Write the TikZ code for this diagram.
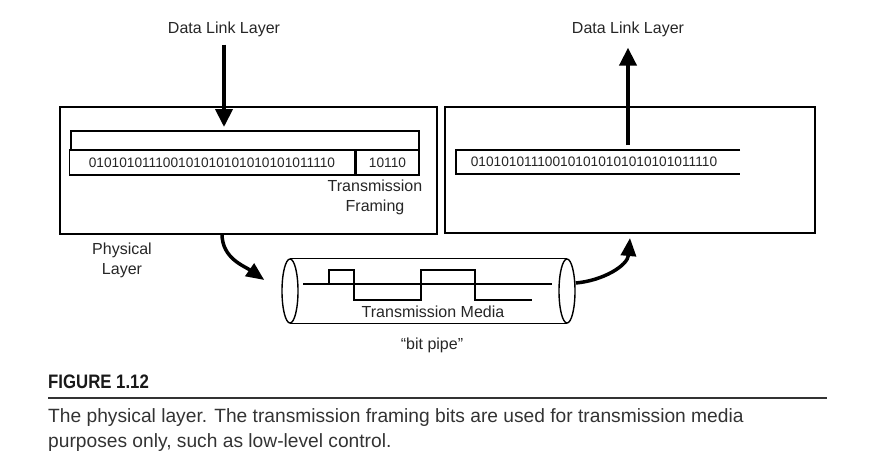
\documentclass[tikz,border=0pt]{standalone}
\usepackage{fontspec}
\setmainfont{Liberation Sans}
\newfontfamily\condfont[FakeStretch=0.86]{Liberation Sans}
\usetikzlibrary{shapes,arrows.meta,positioning}

\begin{document}
\begin{tikzpicture}[x=1pt,y=-1pt,
	caja/.style={draw,line width=1.6pt,inner sep=0pt,outer sep=0pt},
	trama/.style={draw,line width=1.2pt,inner sep=0pt,outer sep=0pt,minimum height=25pt,font=\fontsize{13.7}{16}\selectfont,text=black!85},
	etiq/.style={font=\fontsize{16}{20}\selectfont,text=black!85,align=center,inner sep=0pt},
	flecha/.style={line width=4pt,-{Triangle[width=17pt,length=18pt]}},
	curva/.style={line width=3.5pt,-{Triangle[width=15pt,length=18pt]}}]
		\useasboundingbox (0,0) rectangle (869,467);
		\node[etiq] (dllA) at (224,29) {Data Link Layer}; % emisor
		\node[etiq] (dllB) at (628,29) {Data Link Layer}; % receptor
		\node[caja,minimum width=377pt,minimum height=127pt] (tx) at (248.5,170.5) {};
		\node[caja,minimum width=370pt,minimum height=126pt] (rx) at (630,170) {};
		% trama
		\node[trama,minimum width=348pt,minimum height=19pt] (cab) at (245,140.5) {};
		\node[trama,minimum width=285pt] (datos) at (212,162.5) {010101011100101010101010101011110};
		\node[trama,minimum width=63pt] (cola) at (387.5,162.5) {10110};
		\node[etiq] (entramado) at (375,197) {Transmission\\Framing};
		\node[etiq] (fisica) at (122,260) {Physical\\Layer};
		\coordinate (rtop) at (456,150);
		\draw[line width=1.2pt] (740,150) -| (456,174) -- (740,174);
		\node[trama,draw=none] (rbits) at (594,162) {010101011100101010101010101011110};
		\draw[flecha] ([yshift=-8pt]dllA.south) -- ([yshift=4pt]cab.north -| dllA);
		\draw[flecha] ([yshift=5pt]rtop -| dllB) -- ([yshift=-11pt]dllB.south);
		% tubo
		\node[draw,ellipse,line width=1.4pt,minimum width=16pt,minimum height=64pt,inner sep=0pt] (tapaA) at (290,291) {};
		\node[draw,ellipse,line width=1.4pt,minimum width=16pt,minimum height=64pt,inner sep=0pt] (tapaB) at (567,291) {};
		\draw[line width=1.4pt] (tapaA.north) -- (tapaB.north) (tapaA.south) -- (tapaB.south);
		\draw[line width=1.2pt] (303,284) -- (552,284); % linea base
		\draw[line width=1.2pt] (329,284) |- (354,270) |- (421,300) |- (475,270) |- (532,300);
		\node[etiq] (medio) at (433,312) {Transmission Media};
		\node[etiq] (tubo) at (432,345) {“bit pipe”};
		\draw[curva] ([xshift=-26.5pt]tx.south) to[out=-90,in=145] ([xshift=-17pt,yshift=11pt]tapaA.west);
		\draw[curva] ([yshift=8pt]tapaB.east) to[out=5,in=-95] ([yshift=-5pt]rx.south);
		% pie de figura
		\node[anchor=west,inner sep=0pt,font=\condfont\bfseries\fontsize{19.5}{22}\selectfont,text=black!90] (fig) at (48,382) {FIGURE 1.12};
		\draw[line width=2pt,black!80] (48,398) -- (827,398);
		\node[anchor=north west,inner sep=0pt,align=left,font=\fontsize{19.2}{25}\selectfont,text=black!80] (pie) at (48,408) {The physical layer. The transmission framing bits are used for transmission media\\purposes only, such as low-level control.};
\end{tikzpicture}
\end{document}
